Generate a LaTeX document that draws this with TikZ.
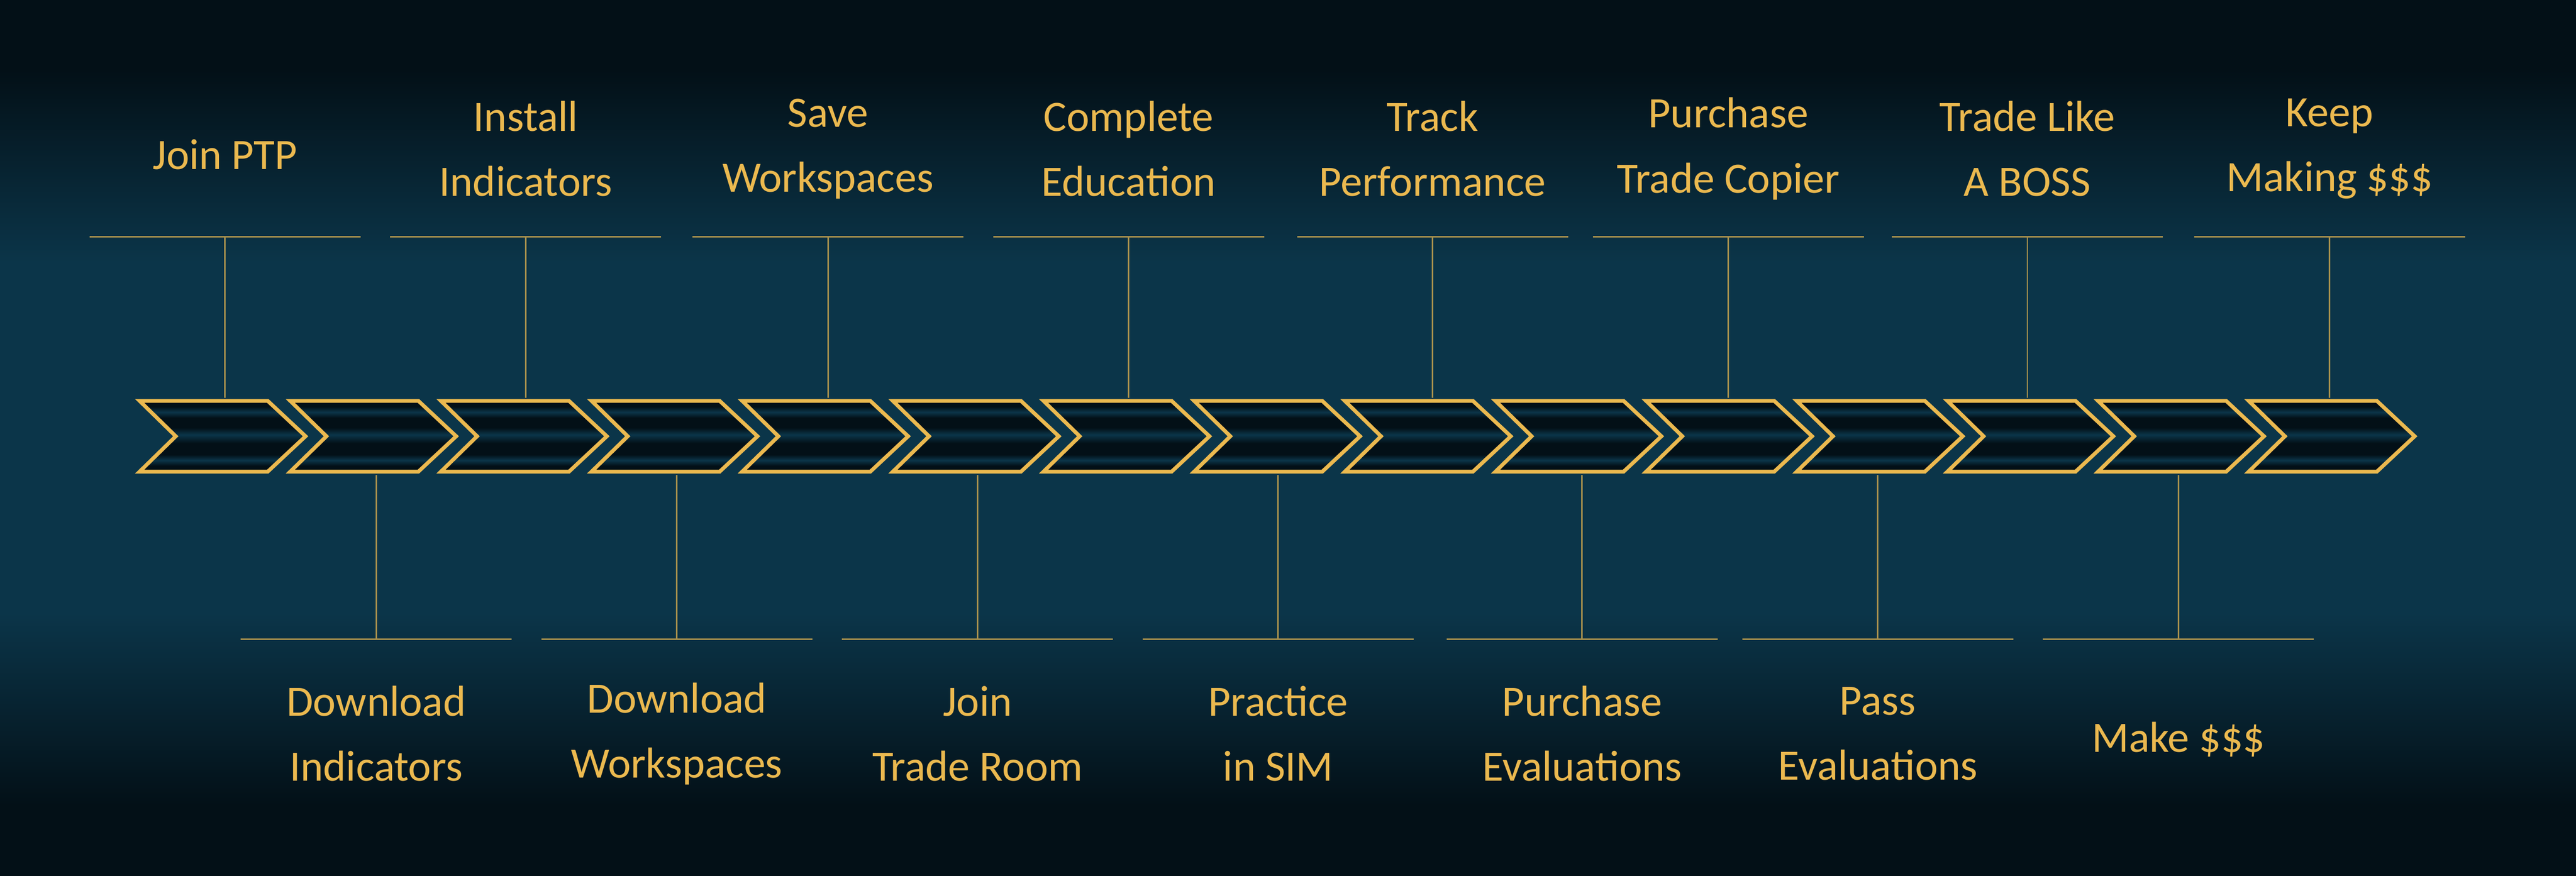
\documentclass[tikz,border=0pt]{standalone}
\usepackage{fontspec}
\setmainfont{Carlito}
\definecolor{gold}{HTML}{EBB94F}
\definecolor{deep}{HTML}{031017}
\definecolor{teal}{HTML}{0B3549}
\pgfdeclareverticalshading{stripes}{100bp}{color(0bp)=(deep); color(29bp)=(deep); color(33bp)=(teal); color(37bp)=(deep); color(45bp)=(deep); color(51bp)=(teal); color(56bp)=(deep); color(63bp)=(deep); color(67bp)=(teal); color(71bp)=(deep); color(100bp)=(deep)}
\pgfdeclareverticalshading{backdrop}{100bp}{color(0bp)=(deep); color(29bp)=(deep); color(40bp)=(teal); color(60bp)=(teal); color(71bp)=(deep); color(100bp)=(deep)}
\begin{document}
\begin{tikzpicture}[x=0.04cm,y=-0.04cm,chev/.style={draw=gold,line width=2.6pt,shading=stripes,line join=miter},lbl/.style={text=gold,font=\fontsize{30}{45}\selectfont,align=center},rule/.style={draw=gold!70!teal,line width=1pt}]
\def\pitch{91.7};
\def\half{82.5};
\def\ytop{144};
\def\ybot{389};

\shade[shading=backdrop] (0,0) rectangle (1568,533);
\useasboundingbox (0,0) rectangle (1568,533);

% chevrons
\foreach \i in {0,...,14}{
  \pgfmathsetmacro{\xa}{85+\pitch*\i}
  \path[chev] (\xa,244) -- (\xa+78,244) -- (\xa+101,265.5) -- (\xa+78,287) -- (\xa,287) -- (\xa+22,265.5) -- cycle;
}

% upper labels
\node[lbl] (T1) at (137,94) {Join PTP};
\node[lbl] (T2) at (320,90.5) {Install\\Indicators};
\node[lbl] (T3) at (504,90.5) {Save\\Workspaces};
\node[lbl] (T4) at (687,90.5) {Complete\\Education};
\node[lbl] (T5) at (872,90.5) {Track\\Performance};
\node[lbl] (T6) at (1052,90.5) {Purchase\\Trade Copier};
\node[lbl] (T7) at (1234,90.5) {Trade Like\\A BOSS};
\node[lbl] (T8) at (1418,90.5) {Keep\\Making \$\$\$};

% lower labels
\node[lbl] (B1) at (229,446.5) {Download\\Indicators};
\node[lbl] (B2) at (412,446.5) {Download\\Workspaces};
\node[lbl] (B3) at (595,446.5) {Join\\Trade Room};
\node[lbl] (B4) at (778,446.5) {Practice\\in SIM};
\node[lbl] (B5) at (963,446.5) {Purchase\\Evaluations};
\node[lbl] (B6) at (1143,446.5) {Pass\\Evaluations};
\node[lbl] (B7) at (1326,450) {Make \$\$\$};

% rules and stems
\foreach \n/\x in {1/137,2/320,3/504,4/687,5/872,6/1052,7/1234,8/1418}{
  \coordinate (tr\n) at (\x,\ytop);
  \coordinate (ts\n) at (\x,242);
  \draw[rule] ([xshift=-\half*0.04cm]tr\n) -- ([xshift=\half*0.04cm]tr\n);
  \draw[rule] (tr\n) -- (ts\n);
}
\foreach \n/\x in {1/229,2/412,3/595,4/778,5/963,6/1143,7/1326}{
  \coordinate (br\n) at (\x,\ybot);
  \coordinate (bs\n) at (\x,289);
  \draw[rule] ([xshift=-\half*0.04cm]br\n) -- ([xshift=\half*0.04cm]br\n);
  \draw[rule] (bs\n) -- (br\n);
}
\end{tikzpicture}
\end{document}
